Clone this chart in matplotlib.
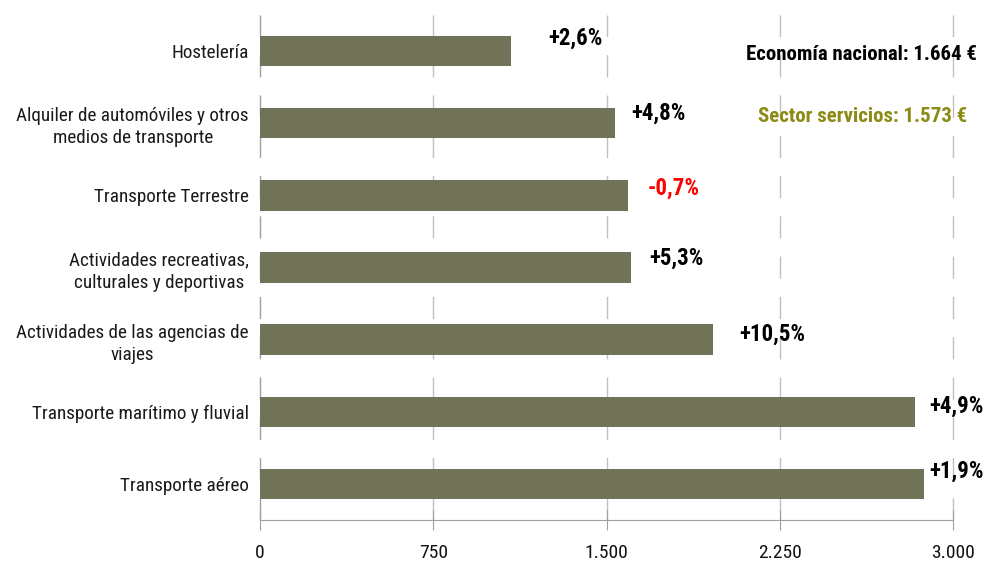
import matplotlib
matplotlib.use("Agg")
import matplotlib.pyplot as plt

plt.rcParams["font.family"] = ["Liberation Sans Narrow", "Roboto Condensed",
                               "Arial Narrow", "Liberation Sans", "DejaVu Sans"]

# Data (top to bottom as in the reference)
categories = [
    "Hostelería",
    "Alquiler de automóviles y otros\nmedios de transporte",
    "Transporte Terrestre",
    "Actividades recreativas,\nculturales y deportivas",
    "Actividades de las agencias de\nviajes",
    "Transporte marítimo y fluvial",
    "Transporte aéreo",
]
values = [1087, 1537, 1593, 1606, 1961, 2835, 2874]
changes = ["+2,6%", "+4,8%", "-0,7%", "+5,3%", "+10,5%", "+4,9%", "+1,9%"]
x_ticks = [0, 750, 1500, 2250, 3000]
x_tick_labels = ["0", "750", "1.500", "2.250", "3.000"]

# label offsets (points) from the end of each bar
label_dx = [27, 12, 14, 13, 19, 10, 4]
label_dy = [9, 7, 5, 7, 4, 4, 9]

bar_color = "#707358"
grid_color = "#c0c0c0"

fig = plt.figure(figsize=(9.88, 5.66), dpi=100)
ax = fig.add_axes([260 / 988, 46 / 566, 693 / 988, 505 / 566])

ypos = list(range(len(categories)))
ax.barh(ypos, values, height=0.42, color=bar_color, zorder=3)
ax.set_ylim(len(categories) - 0.5, -0.5)
ax.set_xlim(0, 3000)

# dashed vertical gridlines
for xt in x_ticks:
    ax.axvline(xt, color=grid_color if xt else "#a0a0a0", lw=1,
               dashes=(16, 13), zorder=1, clip_on=False)

for s in ["top", "right", "left"]:
    ax.spines[s].set_visible(False)
ax.spines["bottom"].set_color("#a0a0a0")

ax.set_xticks(x_ticks)
ax.set_xticklabels(x_tick_labels, fontsize=14, color="#111111")
ax.tick_params(axis="x", direction="inout", length=15, color="#a0a0a0",
               pad=10)
ax.set_yticks(ypos)
ax.set_yticklabels(categories, fontsize=13.8, color="#1a1a1a")
ax.tick_params(axis="y", length=0, pad=8)
for t in ax.get_yticklabels():
    t.set_multialignment("center")
    t.set_linespacing(1.3)

for y, v, txt, dx, dy in zip(ypos, values, changes, label_dx, label_dy):
    ax.annotate(txt, (v, y), xytext=(dx, dy), textcoords="offset points",
                ha="left", va="center", fontsize=16.5, fontweight="bold",
                color="#ff0000" if txt.startswith("-") else "black")

fig.text(977 / 988, 1 - 55 / 566, "Economía nacional: 1.664 €",
         ha="right", va="center", fontsize=15, fontweight="bold",
         color="black")
fig.text(967 / 988, 1 - 116 / 566, "Sector servicios: 1.573 €",
         ha="right", va="center", fontsize=15, fontweight="bold",
         color="#8a8a14")

fig.savefig("out.png", dpi=100)
